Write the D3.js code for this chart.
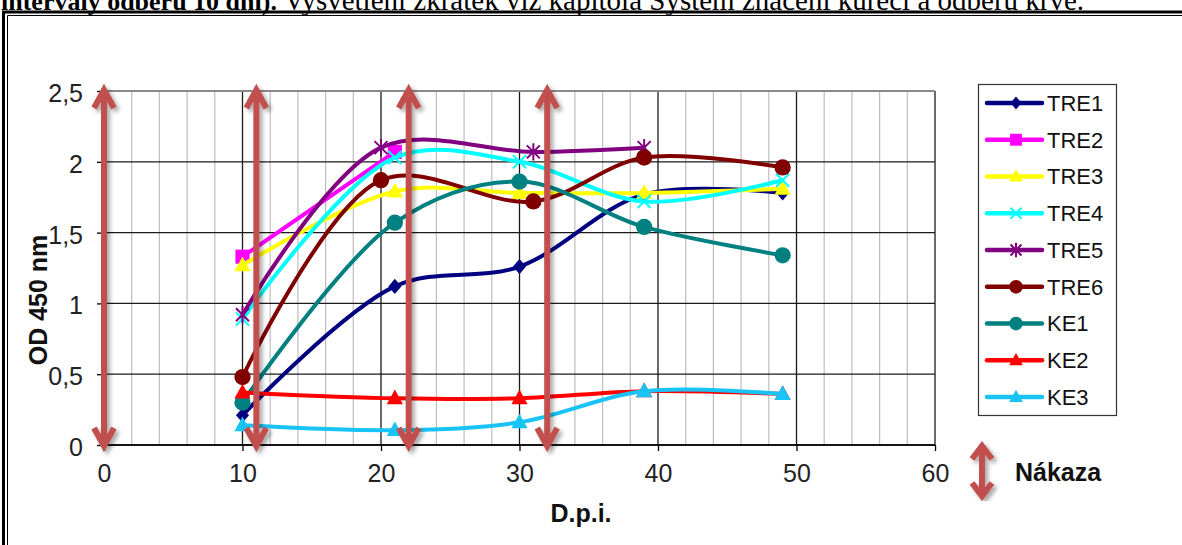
<!DOCTYPE html>
<html>
<head>
<meta charset="utf-8">
<script src="https://cdn.jsdelivr.net/npm/d3@7"></script>
<style>
  html, body { margin: 0; padding: 0; background: #fff; }
  svg { display: block; }
</style>
</head>
<body>
<svg id="chart" width="1182" height="545"></svg>
<script>
// ---- data ----
const seriesNames = ["TRE1", "TRE2", "TRE3", "TRE4", "TRE5", "TRE6", "KE1", "KE2", "KE3"];
const seriesColors = ["#000080", "#ff00ff", "#ffff00", "#00ffff", "#800080", "#800000", "#008080", "#ff0000", "#19c3f5"];
const seriesMarkers = ["diamond", "square", "triangle", "cross", "star", "circle", "circle", "triangle", "triangle"];

// days post infection (x) and OD 450 nm (y) for each series
const tre1Days = [10, 21, 30, 39, 49];
const tre1OD   = [0.21, 1.12, 1.26, 1.77, 1.78];
const tre2Days = [10, 21];
const tre2OD   = [1.33, 2.07];
const tre3Days = [10, 21, 30, 39, 49];
const tre3OD   = [1.27, 1.79, 1.78, 1.78, 1.81];
const tre4Days = [10, 21, 30, 39, 49];
const tre4OD   = [0.89, 2.03, 2.0, 1.72, 1.87];
const tre5Days = [10, 20, 31, 39];
const tre5OD   = [0.92, 2.1, 2.07, 2.1];
const tre6Days = [10, 20, 31, 39, 49];
const tre6OD   = [0.48, 1.87, 1.72, 2.03, 1.96];
const ke1Days  = [10, 21, 30, 39, 49];
const ke1OD    = [0.30, 1.57, 1.86, 1.54, 1.34];
const ke2Days  = [10, 21, 30, 39, 49];
const ke2OD    = [0.37, 0.33, 0.33, 0.38, 0.36];
const ke3Days  = [10, 21, 30, 39, 49];
const ke3OD    = [0.14, 0.105, 0.16, 0.38, 0.36];

const seriesDays = [tre1Days, tre2Days, tre3Days, tre4Days, tre5Days, tre6Days, ke1Days, ke2Days, ke3Days];
const seriesOD   = [tre1OD, tre2OD, tre3OD, tre4OD, tre5OD, tre6OD, ke1OD, ke2OD, ke3OD];

// infection days, drawn as double-headed arrows
const infectionDays = [0, 11, 22, 32];
const infectionLabel = "Nákaza";

const xTicks = [0, 10, 20, 30, 40, 50, 60];
const xMinorTicks = d3.range(0, 61, 2);
const yTicks = [0, 0.5, 1, 1.5, 2, 2.5];
const yTickLabels = ["0", "0,5", "1", "1,5", "2", "2,5"];
const xTitle = "D.p.i.";
const yTitle = "OD 450 nm";
const captionBold = "intervaly odběru 10 dní).";
const captionRest = " Vysvětlení zkratek viz kapitola Systém značení kuřecí a odběru krve.";

// ---- layout ----
const svg = d3.select("#chart");
const plot = { left: 104, right: 935, top: 91, bottom: 445 };
const x = d3.scaleLinear().domain([0, 60]).range([plot.left, plot.right]);
const y = d3.scaleLinear().domain([0, 2.5]).range([plot.bottom, plot.top]);
const arrowColor = "#c0504d";
const sans = "'Liberation Sans', Arial, sans-serif";

const defs = svg.append("defs");
const shadow = defs.append("filter").attr("id", "shadow")
  .attr("x", "-50%").attr("y", "-10%").attr("width", "200%").attr("height", "120%");
shadow.append("feDropShadow").attr("dx", 3).attr("dy", 3).attr("stdDeviation", 2)
  .attr("flood-color", "#000").attr("flood-opacity", 0.35);

// caption line above the frame (continues from the previous page line)
svg.append("text")
  .attr("x", 1).attr("y", 10)
  .style("font-family", "'Liberation Serif', 'Times New Roman', serif")
  .call(t => {
    t.append("tspan").attr("font-weight", "bold").style("font-size", "26px").text(captionBold);
    t.append("tspan").style("font-size", "29px").text(captionRest);
  });

// double frame around the chart
svg.append("path").attr("d", "M3.5,600 V12 H1200").attr("fill", "none").attr("stroke", "#000").attr("stroke-width", 3);
svg.append("path").attr("d", "M7.5,600 V15.5 H1200").attr("fill", "none").attr("stroke", "#000").attr("stroke-width", 1);

// ---- grid ----
const grid = svg.append("g");
grid.selectAll("line.minor")
  .data(xMinorTicks.filter(d => d % 10 !== 0))
  .join("line")
  .attr("x1", d => x(d)).attr("x2", d => x(d))
  .attr("y1", plot.top).attr("y2", plot.bottom)
  .attr("stroke", "#bdbdbd").attr("stroke-width", 1.2);
grid.selectAll("line.vmajor")
  .data(xTicks)
  .join("line")
  .attr("x1", d => x(d)).attr("x2", d => x(d))
  .attr("y1", plot.top).attr("y2", plot.bottom)
  .attr("stroke", "#1a1a1a").attr("stroke-width", 1.3);
grid.selectAll("line.hmajor")
  .data(yTicks)
  .join("line")
  .attr("x1", plot.left).attr("x2", plot.right)
  .attr("y1", d => y(d)).attr("y2", d => y(d))
  .attr("stroke", d => d === 2.5 ? "#8a8a8a" : "#1a1a1a")
  .attr("stroke-width", d => d === 2.5 ? 2 : 1.3);

// ---- axes ----
const xAxis = svg.append("g")
  .attr("transform", `translate(0,${plot.bottom})`)
  .call(d3.axisBottom(x).tickValues(xTicks).tickFormat(d3.format("d")).tickSize(6).tickPadding(13));
const yAxis = svg.append("g")
  .attr("transform", `translate(${plot.left},0)`)
  .call(d3.axisLeft(y).tickValues(yTicks).tickFormat((d, i) => yTickLabels[i]).tickSize(7).tickPadding(14));
[xAxis, yAxis].forEach(g => {
  g.select(".domain").attr("stroke", "#000").attr("stroke-width", 1.5);
  g.selectAll(".tick line").attr("stroke", "#000").attr("stroke-width", 1.3);
  g.selectAll(".tick text").attr("fill", "#222")
    .style("font-family", sans).style("font-size", "25px");
});
xAxis.select(".domain").attr("d", `M${plot.left},0H${plot.right}`);
yAxis.select(".domain").attr("d", `M0,${plot.bottom}V${plot.top}`);
yAxis.selectAll(".tick text").attr("dy", "0.42em");

svg.append("text")
  .attr("x", 581).attr("y", 522)
  .attr("text-anchor", "middle")
  .style("font-family", sans).style("font-size", "25px").style("font-weight", "bold")
  .attr("fill", "#111")
  .text(xTitle);
svg.append("text")
  .attr("transform", "translate(47,300) rotate(-90)")
  .attr("text-anchor", "middle")
  .style("font-family", sans).style("font-size", "25px").style("font-weight", "bold")
  .attr("fill", "#111")
  .text(yTitle);

// ---- markers ----
function drawMarker(g, type, cx, cy, color, s) {
  const k = s / 12;
  if (type === "diamond") {
    g.append("path").attr("d", `M${cx},${cy - 7 * k}L${cx + 6 * k},${cy}L${cx},${cy + 7 * k}L${cx - 6 * k},${cy}Z`).attr("fill", color);
  } else if (type === "square") {
    g.append("rect").attr("x", cx - 6.5 * k).attr("y", cy - 6.5 * k).attr("width", 13 * k).attr("height", 13 * k).attr("fill", color);
  } else if (type === "triangle") {
    g.append("path").attr("d", `M${cx},${cy - 8 * k}L${cx + 7.5 * k},${cy + 5.5 * k}L${cx - 7.5 * k},${cy + 5.5 * k}Z`).attr("fill", color);
  } else if (type === "circle") {
    g.append("circle").attr("cx", cx).attr("cy", cy).attr("r", 7.5 * k).attr("fill", color);
  } else if (type === "cross") {
    g.append("path").attr("d", `M${cx - 6 * k},${cy - 6 * k}L${cx + 6 * k},${cy + 6 * k}M${cx + 6 * k},${cy - 6 * k}L${cx - 6 * k},${cy + 6 * k}`)
      .attr("stroke", color).attr("stroke-width", 2);
  } else if (type === "star") {
    g.append("path").attr("d", `M${cx - 6 * k},${cy - 6 * k}L${cx + 6 * k},${cy + 6 * k}M${cx + 6 * k},${cy - 6 * k}L${cx - 6 * k},${cy + 6 * k}M${cx},${cy - 8 * k}L${cx},${cy + 8 * k}`)
      .attr("stroke", color).attr("stroke-width", 2);
  }
}

// ---- series ----
const line = d3.line().x(d => x(d[0])).y(d => y(d[1])).curve(d3.curveCatmullRom.alpha(0.5));
const seriesG = svg.append("g");
seriesNames.forEach((name, i) => {
  const pts = seriesDays[i].map((d, j) => [d, seriesOD[i][j]]);
  const g = seriesG.append("g");
  g.append("path").datum(pts).attr("d", line)
    .attr("fill", "none").attr("stroke", seriesColors[i]).attr("stroke-width", 4)
    .attr("stroke-linejoin", "round").attr("stroke-linecap", "round");
  pts.forEach(p => drawMarker(g, seriesMarkers[i], x(p[0]), y(p[1]), seriesColors[i], 13));
});

// ---- infection arrows ----
function doubleArrow(g, ax, y1, y2, head, w) {
  g.append("path")
    .attr("d", `M${ax},${y1 + 1}V${y2 - 1}M${ax - head[0]},${y1 + head[1]}L${ax},${y1 + 1}L${ax + head[0]},${y1 + head[1]}M${ax - head[0]},${y2 - head[1]}L${ax},${y2 - 1}L${ax + head[0]},${y2 - head[1]}`)
    .attr("fill", "none").attr("stroke", arrowColor).attr("stroke-width", w)
    .attr("stroke-linejoin", "miter").attr("stroke-linecap", "butt")
    .attr("filter", "url(#shadow)");
}
const arrowsG = svg.append("g");
infectionDays.forEach(d => doubleArrow(arrowsG, x(d), y(2.5) - 2, y(0) + 2, [10, 19], 6));

// ---- legend ----
const legend = svg.append("g");
legend.append("rect").attr("x", 978.5).attr("y", 84.5).attr("width", 138).attr("height", 331)
  .attr("fill", "#fff").attr("stroke", "#333").attr("stroke-width", 1.2);
seriesNames.forEach((name, i) => {
  const ly = 103 + i * 36.75;
  const g = legend.append("g");
  g.append("line").attr("x1", 987).attr("x2", 1042).attr("y1", ly).attr("y2", ly)
    .attr("stroke", seriesColors[i]).attr("stroke-width", 4.5).attr("stroke-linecap", "round");
  drawMarker(g, seriesMarkers[i], 1016, ly, seriesColors[i], 11);
  g.append("text").attr("x", 1047).attr("y", ly).attr("dy", "0.36em")
    .style("font-family", sans).style("font-size", "22px").attr("fill", "#111")
    .text(name);
});

// infection key
const key = svg.append("g");
doubleArrow(key, 982, 445, 497, [10, 14], 6);
key.append("text").attr("x", 1015).attr("y", 472).attr("dy", "0.36em")
  .style("font-family", sans).style("font-size", "25px").style("font-weight", "bold").attr("fill", "#111")
  .text(infectionLabel);
</script>
</body>
</html>
